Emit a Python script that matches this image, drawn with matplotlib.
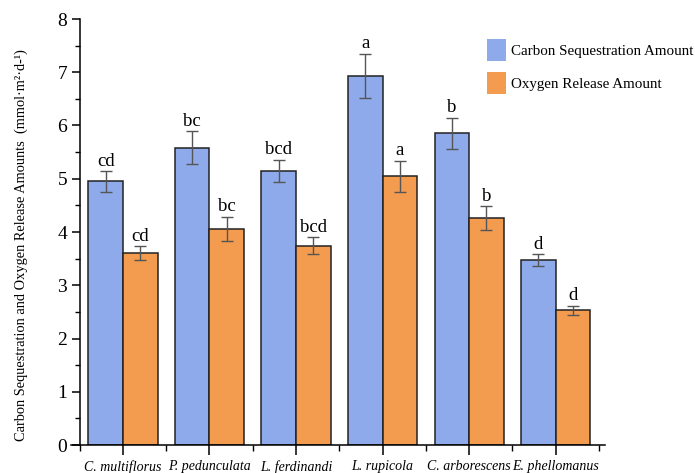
import numpy as np
import matplotlib
matplotlib.use("Agg")
import matplotlib.pyplot as plt
from matplotlib.patches import Patch

plt.rcParams["font.family"] = ["Liberation Serif", "DejaVu Serif"]

species = ["C. multiflorus", "P. pedunculata", "L. ferdinandi",
           "L. rupicola", "C. arborescens", "E. phellomanus"]
carbon     = [4.95, 5.58, 5.15, 6.93, 5.85, 3.47]
carbon_err = [0.19, 0.31, 0.21, 0.42, 0.30, 0.11]
oxygen     = [3.60, 4.06, 3.74, 5.05, 4.26, 2.53]
oxygen_err = [0.13, 0.22, 0.16, 0.29, 0.22, 0.08]
carbon_sig = ["cd", "bc", "bcd", "a", "b", "d"]
oxygen_sig = ["cd", "bc", "bcd", "a", "b", "d"]

BLUE   = "#8eaaeb"
ORANGE = "#f39b4e"
W = 0.4

fig = plt.figure(figsize=(6.95, 4.73), dpi=100)
ax = fig.add_axes([71 / 695, 28 / 473, (605 - 71) / 695, (445 - 19) / 473])

x = np.arange(len(species))
err_kw = {"ecolor": "#555555", "elinewidth": 1.0, "capsize": 4.5, "capthick": 1.0}
ax.bar(x - W / 2, carbon, W, yerr=carbon_err, color=BLUE,
       edgecolor="#222222", linewidth=1.1, error_kw=err_kw, zorder=2)
ax.bar(x + W / 2, oxygen, W, yerr=oxygen_err, color=ORANGE,
       edgecolor="#222222", linewidth=1.1, error_kw=err_kw, zorder=2)

# significance letters just above each error bar
for i in range(len(species)):
    ax.text(x[i] - W / 2, carbon[i] + carbon_err[i] + 0.03, carbon_sig[i],
            ha="center", va="bottom", fontsize=13.5)
    ax.text(x[i] + W / 2, oxygen[i] + oxygen_err[i] + 0.03, oxygen_sig[i],
            ha="center", va="bottom", fontsize=13.5)

ax.set_xlim(-0.6, 5.57)
ax.set_ylim(0, 8)
ax.spines["left"].set_position(("data", -0.5))
ax.spines["left"].set_bounds(0, 8)
ax.spines["top"].set_visible(False)
ax.spines["right"].set_visible(False)
for s in ("left", "bottom"):
    ax.spines[s].set_linewidth(1.1)

ax.set_yticks(range(0, 9))
ax.set_yticks(np.arange(0.5, 8, 1.0), minor=True)
ax.tick_params(axis="y", which="major", direction="out", length=6, width=1.1,
               labelsize=14, pad=3)
ax.tick_params(axis="y", which="minor", direction="out", length=3.5, width=1.0)

ax.set_xticks(x)
ax.set_xticklabels(species, fontstyle="italic", fontsize=10)
ax.set_xticks(np.arange(-0.5, 6, 1.0), minor=True)
ax.tick_params(axis="x", which="major", direction="out", length=7, width=1.1, pad=4)
ax.tick_params(axis="x", which="minor", direction="out", length=4, width=1.0)

ax.set_ylabel("Carbon Sequestration and Oxygen Release Amounts  (mmol·m²·d-¹)",
              fontsize=10.4)
ax.yaxis.set_label_coords(-0.08, 0.47)

handles = [Patch(facecolor=BLUE, edgecolor="none", label="Carbon Sequestration Amount"),
           Patch(facecolor=ORANGE, edgecolor="none", label="Oxygen Release Amount")]
ax.legend(handles=handles, loc="upper left", bbox_to_anchor=(0.762, 0.975),
          frameon=False, fontsize=10.8, handlelength=1.3, handleheight=1.9,
          labelspacing=0.75, handletextpad=0.3, borderaxespad=0.2)

fig.savefig("out.png", dpi=100)
